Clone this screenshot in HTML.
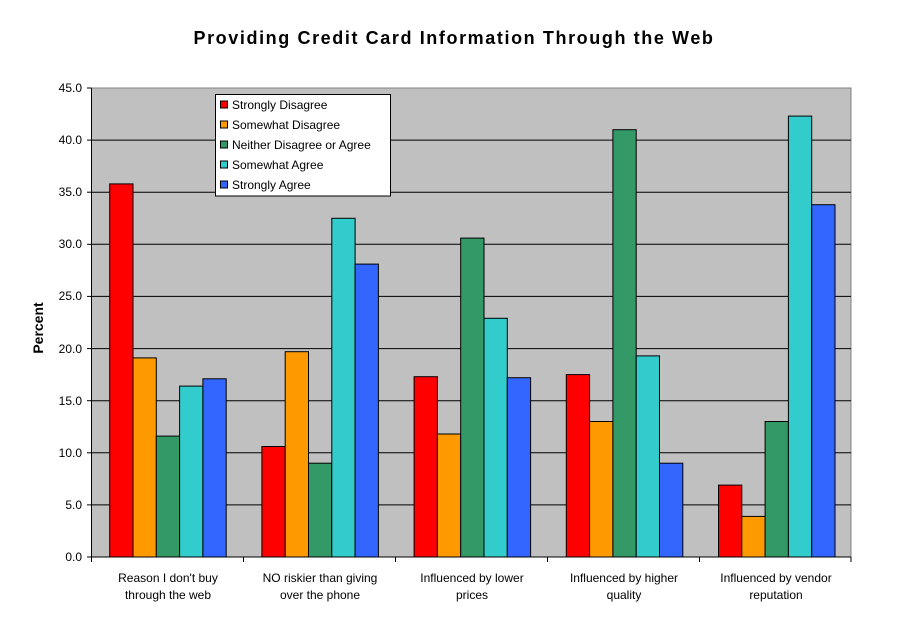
<!DOCTYPE html>
<html><head><meta charset="utf-8"><style>body{margin:0;background:#fff}svg{display:block}</style></head><body>
<svg width="910" height="622" xmlns="http://www.w3.org/2000/svg" font-family="Liberation Sans, Arial, sans-serif">
<rect width="910" height="622" fill="#fff"/>
<text x="454" y="44" text-anchor="middle" font-size="18" font-weight="bold" letter-spacing="1.6">Providing Credit Card Information Through the Web</text>
<rect x="91.5" y="88" width="759.5" height="469" fill="#c0c0c0" stroke="#808080" stroke-width="1"/>
<g stroke="#000" stroke-width="1">
<line x1="91.5" x2="851" y1="504.9" y2="504.9"/><line x1="91.5" x2="851" y1="452.8" y2="452.8"/>
<line x1="91.5" x2="851" y1="400.7" y2="400.7"/><line x1="91.5" x2="851" y1="348.6" y2="348.6"/>
<line x1="91.5" x2="851" y1="296.4" y2="296.4"/><line x1="91.5" x2="851" y1="244.3" y2="244.3"/>
<line x1="91.5" x2="851" y1="192.2" y2="192.2"/><line x1="91.5" x2="851" y1="140.1" y2="140.1"/>
</g>
<g stroke="#000" stroke-width="1">
<rect x="109.7" y="183.9" width="23.3" height="373.1" fill="#ff0000"/>
<rect x="133.0" y="357.9" width="23.3" height="199.1" fill="#ff9900"/>
<rect x="156.3" y="436.1" width="23.3" height="120.9" fill="#339966"/>
<rect x="179.6" y="386.1" width="23.3" height="170.9" fill="#33cccc"/>
<rect x="202.9" y="378.8" width="23.3" height="178.2" fill="#3366ff"/>
<rect x="261.9" y="446.5" width="23.3" height="110.5" fill="#ff0000"/>
<rect x="285.2" y="351.7" width="23.3" height="205.3" fill="#ff9900"/>
<rect x="308.5" y="463.2" width="23.3" height="93.8" fill="#339966"/>
<rect x="331.8" y="218.3" width="23.3" height="338.7" fill="#33cccc"/>
<rect x="355.1" y="264.1" width="23.3" height="292.9" fill="#3366ff"/>
<rect x="414.1" y="376.7" width="23.3" height="180.3" fill="#ff0000"/>
<rect x="437.4" y="434.0" width="23.3" height="123.0" fill="#ff9900"/>
<rect x="460.7" y="238.1" width="23.3" height="318.9" fill="#339966"/>
<rect x="484.0" y="318.3" width="23.3" height="238.7" fill="#33cccc"/>
<rect x="507.3" y="377.7" width="23.3" height="179.3" fill="#3366ff"/>
<rect x="566.3" y="374.6" width="23.3" height="182.4" fill="#ff0000"/>
<rect x="589.6" y="421.5" width="23.3" height="135.5" fill="#ff9900"/>
<rect x="612.9" y="129.7" width="23.3" height="427.3" fill="#339966"/>
<rect x="636.2" y="355.9" width="23.3" height="201.1" fill="#33cccc"/>
<rect x="659.5" y="463.2" width="23.3" height="93.8" fill="#3366ff"/>
<rect x="718.5" y="485.1" width="23.3" height="71.9" fill="#ff0000"/>
<rect x="741.8" y="516.4" width="23.3" height="40.6" fill="#ff9900"/>
<rect x="765.1" y="421.5" width="23.3" height="135.5" fill="#339966"/>
<rect x="788.4" y="116.1" width="23.3" height="440.9" fill="#33cccc"/>
<rect x="811.7" y="204.7" width="23.3" height="352.3" fill="#3366ff"/>
</g>
<g stroke="#000" stroke-width="1">
<line x1="91.5" y1="88" x2="91.5" y2="557"/><line x1="91.5" y1="557" x2="851" y2="557"/>
<line x1="87" x2="91.5" y1="557" y2="557"/><line x1="87" x2="91.5" y1="504.9" y2="504.9"/><line x1="87" x2="91.5" y1="452.8" y2="452.8"/><line x1="87" x2="91.5" y1="400.7" y2="400.7"/><line x1="87" x2="91.5" y1="348.6" y2="348.6"/><line x1="87" x2="91.5" y1="296.4" y2="296.4"/><line x1="87" x2="91.5" y1="244.3" y2="244.3"/><line x1="87" x2="91.5" y1="192.2" y2="192.2"/><line x1="87" x2="91.5" y1="140.1" y2="140.1"/><line x1="87" x2="91.5" y1="88" y2="88"/>
<line x1="91.5" x2="91.5" y1="557" y2="562"/><line x1="243.5" x2="243.5" y1="557" y2="562"/><line x1="395.5" x2="395.5" y1="557" y2="562"/><line x1="547.5" x2="547.5" y1="557" y2="562"/><line x1="699.5" x2="699.5" y1="557" y2="562"/><line x1="851" x2="851" y1="557" y2="562"/>
</g>
<g font-size="12" text-anchor="end">
<text x="82" y="561">0.0</text><text x="82" y="509">5.0</text><text x="82" y="457">10.0</text><text x="82" y="405">15.0</text><text x="82" y="353">20.0</text><text x="82" y="300">25.0</text><text x="82" y="248">30.0</text><text x="82" y="196">35.0</text><text x="82" y="144">40.0</text><text x="82" y="92">45.0</text>
</g>
<text transform="translate(43,328) rotate(-90)" text-anchor="middle" font-size="14" font-weight="bold">Percent</text>
<g font-size="12" text-anchor="middle">
<text x="168" y="582">Reason I don't buy</text><text x="168" y="599">through the web</text>
<text x="320" y="582">NO riskier than giving</text><text x="320" y="599">over the phone</text>
<text x="472" y="582">Influenced by lower</text><text x="472" y="599">prices</text>
<text x="624" y="582">Influenced by higher</text><text x="624" y="599">quality</text>
<text x="776" y="582">Influenced by vendor</text><text x="776" y="599">reputation</text>
</g>
<rect x="215.5" y="94.5" width="175" height="101.5" fill="#fff" stroke="#000"/>
<g stroke="#000" stroke-width="1">
<rect x="220.5" y="101" width="7" height="7" fill="#ff0000"/>
<rect x="220.5" y="121" width="7" height="7" fill="#ff9900"/>
<rect x="220.5" y="141" width="7" height="7" fill="#339966"/>
<rect x="220.5" y="161" width="7" height="7" fill="#33cccc"/>
<rect x="220.5" y="181" width="7" height="7" fill="#3366ff"/>
</g>
<g font-size="12">
<text x="232" y="109">Strongly Disagree</text>
<text x="232" y="129">Somewhat Disagree</text>
<text x="232" y="149">Neither Disagree or Agree</text>
<text x="232" y="169">Somewhat Agree</text>
<text x="232" y="189">Strongly Agree</text>
</g>
</svg>
</body></html>
